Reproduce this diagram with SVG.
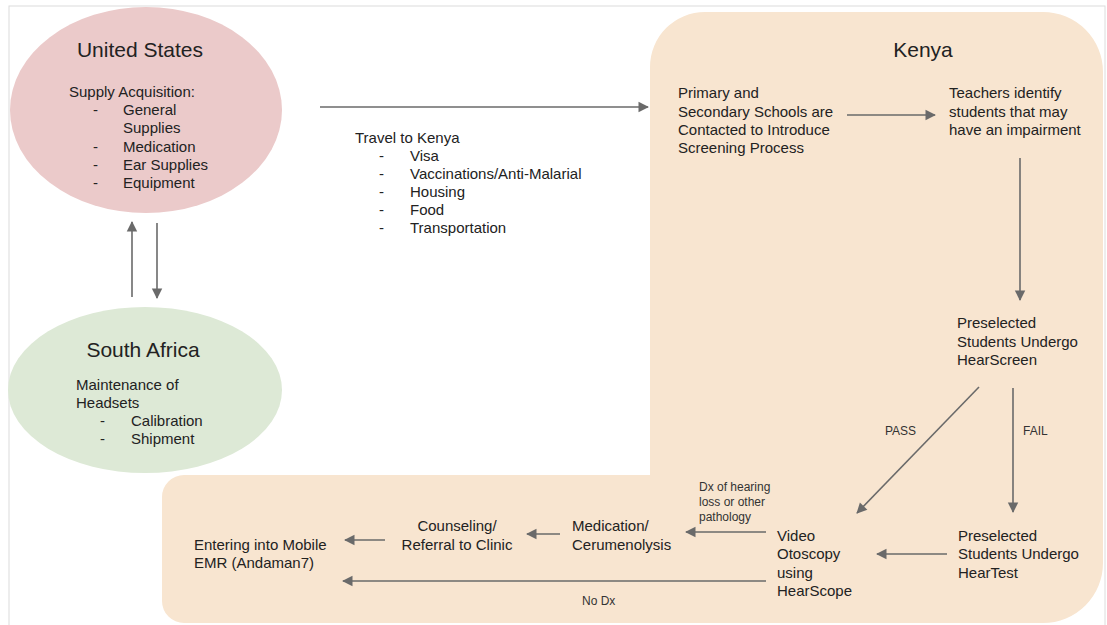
<svg xmlns="http://www.w3.org/2000/svg" width="1107" height="625" viewBox="0 0 1107 625">
  <style>
    text { font-family: "Liberation Sans", Arial, sans-serif; fill: #222; }
    .title { font-size: 21px; text-anchor: middle; }
    .body { font-size: 15px; }
    .small { font-size: 12px; fill: #333; }
    .mid { text-anchor: middle; }
    .conn { stroke: #6a6a6a; stroke-width: 1.6; fill: none; marker-end: url(#arrow); }
  </style>
  <defs>
    <marker id="arrow" viewBox="0 0 10 10" refX="9" refY="5" markerWidth="6.5" markerHeight="6.5" markerUnits="userSpaceOnUse" orient="auto" overflow="visible">
      <path d="M0,0 L10,5 L0,10 Z" fill="#6a6a6a" transform="scale(1.6) translate(-3.5,-1.9)"/>
    </marker>
  </defs>

  <!-- page background and frame -->
  <rect x="0" y="0" width="1107" height="625" fill="#ffffff"/>
  <rect x="9" y="6" width="1096" height="640" fill="none" stroke="#dcdcdc" stroke-width="1"/>

  <!-- Kenya region (L-shaped panel) -->
  <g id="kenya-region">
    <path d="M650,67 A55,55 0 0 1 705,12 L1043,12 A60,60 0 0 1 1103,72 L1103,563 A60,60 0 0 1 1043,623 L184,623 A22,22 0 0 1 162,601 L162,497 A22,22 0 0 1 184,475 L650,475 Z" fill="#f8e5d0"/>
    <text class="title" x="923" y="57">Kenya</text>
  </g>

  <!-- United States -->
  <g id="united-states">
    <ellipse cx="146" cy="110" rx="136" ry="103" fill="#ebcaca"/>
    <text class="title" x="140" y="57">United States</text>
    <text class="body" x="69" y="97">Supply Acquisition:</text>
    <text class="body" x="93" y="115">-</text><text class="body" x="123" y="115">General</text>
    <text class="body" x="123" y="133">Supplies</text>
    <text class="body" x="93" y="152">-</text><text class="body" x="123" y="152">Medication</text>
    <text class="body" x="93" y="170">-</text><text class="body" x="123" y="170">Ear Supplies</text>
    <text class="body" x="93" y="188">-</text><text class="body" x="123" y="188">Equipment</text>
  </g>

  <!-- South Africa -->
  <g id="south-africa">
    <ellipse cx="145" cy="390" rx="137" ry="83" fill="#dde9d6"/>
    <text class="title" x="143" y="357">South Africa</text>
    <text class="body" x="76" y="390">Maintenance of</text>
    <text class="body" x="76" y="408">Headsets</text>
    <text class="body" x="100" y="426">-</text><text class="body" x="131" y="426">Calibration</text>
    <text class="body" x="100" y="444">-</text><text class="body" x="131" y="444">Shipment</text>
  </g>

  <!-- Travel notes -->
  <g id="travel">
    <text class="body" x="355" y="143">Travel to Kenya</text>
    <text class="body" x="379" y="161">-</text><text class="body" x="410" y="161">Visa</text>
    <text class="body" x="379" y="179">-</text><text class="body" x="410" y="179">Vaccinations/Anti-Malarial</text>
    <text class="body" x="379" y="197">-</text><text class="body" x="410" y="197">Housing</text>
    <text class="body" x="379" y="215">-</text><text class="body" x="410" y="215">Food</text>
    <text class="body" x="379" y="233">-</text><text class="body" x="410" y="233">Transportation</text>
  </g>

  <g id="schools">
    <text class="body" x="678" y="98">Primary and</text>
    <text class="body" x="678" y="117">Secondary Schools are</text>
    <text class="body" x="678" y="135">Contacted to Introduce</text>
    <text class="body" x="678" y="153">Screening Process</text>
  </g>

  <g id="teachers">
    <text class="body" x="949" y="98">Teachers identify</text>
    <text class="body" x="949" y="117">students that may</text>
    <text class="body" x="949" y="135">have an impairment</text>
  </g>

  <g id="hearscreen">
    <text class="body" x="957" y="328">Preselected</text>
    <text class="body" x="957" y="347">Students Undergo</text>
    <text class="body" x="957" y="365">HearScreen</text>
  </g>

  <g id="heartest">
    <text class="body" x="958" y="541">Preselected</text>
    <text class="body" x="958" y="559">Students Undergo</text>
    <text class="body" x="958" y="578">HearTest</text>
  </g>

  <g id="video-otoscopy">
    <text class="body" x="777" y="541">Video</text>
    <text class="body" x="777" y="559">Otoscopy</text>
    <text class="body" x="777" y="578">using</text>
    <text class="body" x="777" y="596">HearScope</text>
  </g>

  <g id="medication">
    <text class="body" x="572" y="531">Medication/</text>
    <text class="body" x="572" y="550">Cerumenolysis</text>
  </g>

  <g id="counseling">
    <text class="body mid" x="457" y="531">Counseling/</text>
    <text class="body mid" x="457" y="550">Referral to Clinic</text>
  </g>

  <g id="emr">
    <text class="body" x="194" y="550">Entering into Mobile</text>
    <text class="body" x="194" y="568">EMR (Andaman7)</text>
  </g>

  <!-- connectors -->
  <g id="connectors">
    <line class="conn" x1="132" y1="297" x2="132" y2="222"/>
    <line class="conn" x1="157" y1="223" x2="157" y2="298"/>
    <line class="conn" x1="320" y1="107" x2="648" y2="107"/>
    <line class="conn" x1="847" y1="115" x2="935" y2="115"/>
    <line class="conn" x1="1020" y1="158" x2="1020" y2="300"/>
    <line class="conn" x1="979" y1="387" x2="857" y2="513"/>
    <line class="conn" x1="1013" y1="388" x2="1013" y2="512"/>
    <line class="conn" x1="947" y1="554" x2="877" y2="554"/>
    <line class="conn" x1="766" y1="532" x2="686" y2="532"/>
    <line class="conn" x1="560" y1="534" x2="527" y2="534"/>
    <line class="conn" x1="385" y1="540" x2="345" y2="540"/>
    <line class="conn" x1="766" y1="581" x2="343" y2="581"/>
    <text class="small" x="885" y="435">PASS</text>
    <text class="small" x="1023" y="435">FAIL</text>
    <text class="small" x="699" y="491">Dx of hearing</text>
    <text class="small" x="699" y="506">loss or other</text>
    <text class="small" x="699" y="521">pathology</text>
    <text class="small" x="582" y="605">No Dx</text>
  </g>
</svg>
